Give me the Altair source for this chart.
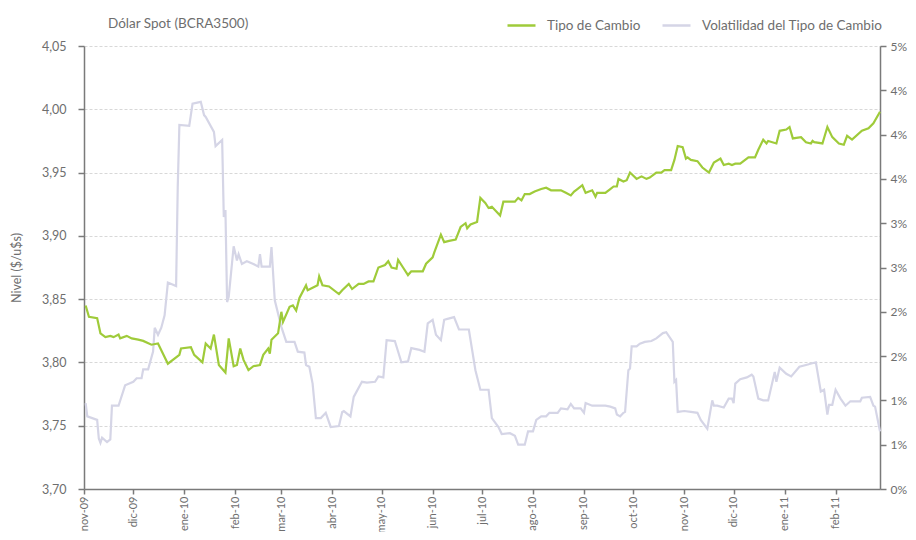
import altair as alt
import pandas as pd

# ---------------- data ----------------
tc_dates = ["2009-11-02","2009-11-04","2009-11-09","2009-11-11","2009-11-14","2009-11-17","2009-11-19","2009-11-22","2009-11-23","2009-11-27","2009-11-30",
"2009-12-04","2009-12-07","2009-12-12","2009-12-16","2009-12-22","2009-12-29","2009-12-30",
"2010-01-05","2010-01-07","2010-01-12","2010-01-14","2010-01-17","2010-01-19","2010-01-22","2010-01-26","2010-01-28","2010-01-31",
"2010-02-02","2010-02-04","2010-02-06","2010-02-09","2010-02-12","2010-02-16","2010-02-18","2010-02-21","2010-02-22","2010-02-23","2010-02-27",
"2010-03-01","2010-03-02","2010-03-06","2010-03-08","2010-03-10","2010-03-12","2010-03-16","2010-03-17","2010-03-20","2010-03-23","2010-03-24","2010-03-26","2010-03-30",
"2010-04-05","2010-04-07","2010-04-11","2010-04-13","2010-04-17","2010-04-20","2010-04-23","2010-04-26","2010-04-29",
"2010-05-03","2010-05-05","2010-05-07","2010-05-10","2010-05-11","2010-05-14","2010-05-17","2010-05-19","2010-05-26","2010-05-28",
"2010-06-01","2010-06-02","2010-06-06","2010-06-08","2010-06-11","2010-06-15","2010-06-18","2010-06-21","2010-06-22","2010-06-24","2010-06-28","2010-06-30",
"2010-07-03","2010-07-05","2010-07-07","2010-07-12","2010-07-14","2010-07-21","2010-07-23","2010-07-25","2010-07-27","2010-07-30",
"2010-08-02","2010-08-06","2010-08-09","2010-08-12","2010-08-18","2010-08-21","2010-08-24","2010-08-26","2010-08-28","2010-08-31",
"2010-09-02","2010-09-06","2010-09-08","2010-09-09","2010-09-14","2010-09-17","2010-09-19","2010-09-21","2010-09-22","2010-09-25","2010-09-27","2010-09-29",
"2010-10-03","2010-10-06","2010-10-09","2010-10-11","2010-10-15","2010-10-18","2010-10-20","2010-10-24","2010-10-26","2010-10-28","2010-10-31",
"2010-11-02","2010-11-03","2010-11-05","2010-11-09","2010-11-12","2010-11-16","2010-11-19","2010-11-23","2010-11-25","2010-11-28","2010-11-30",
"2010-12-02","2010-12-05","2010-12-10","2010-12-14","2010-12-16","2010-12-19","2010-12-21","2010-12-22","2010-12-27","2010-12-29",
"2011-01-02","2011-01-04","2011-01-06","2011-01-11","2011-01-14","2011-01-17","2011-01-18","2011-01-19","2011-01-24","2011-01-27","2011-01-30",
"2011-02-03","2011-02-06","2011-02-08","2011-02-11","2011-02-17","2011-02-21","2011-02-24","2011-02-28"]
tc_values = [3.845,3.836,3.835,3.823,3.820,3.821,3.820,3.822,3.819,3.821,3.819,
3.818,3.817,3.814,3.815,3.799,3.806,3.811,
3.812,3.806,3.800,3.815,3.811,3.822,3.798,3.792,3.819,3.797,
3.798,3.811,3.802,3.794,3.797,3.798,3.806,3.811,3.807,3.818,3.823,
3.840,3.832,3.844,3.845,3.841,3.851,3.861,3.857,3.859,3.861,3.868,3.861,3.860,
3.854,3.857,3.862,3.858,3.862,3.862,3.864,3.864,3.875,
3.877,3.880,3.875,3.874,3.881,3.875,3.869,3.872,3.872,3.878,
3.883,3.887,3.901,3.895,3.896,3.897,3.907,3.910,3.906,3.909,3.911,3.930,
3.926,3.922,3.923,3.916,3.927,3.927,3.930,3.928,3.933,3.933,
3.935,3.937,3.938,3.936,3.936,3.934,3.932,3.935,3.937,3.940,
3.934,3.936,3.931,3.934,3.934,3.937,3.939,3.939,3.945,3.943,3.944,3.950,
3.945,3.947,3.945,3.946,3.950,3.950,3.952,3.952,3.960,3.971,3.970,
3.961,3.962,3.960,3.959,3.954,3.950,3.958,3.961,3.956,3.957,3.956,
3.957,3.957,3.962,3.962,3.968,3.976,3.973,3.975,3.973,3.983,
3.984,3.986,3.977,3.978,3.974,3.973,3.975,3.974,3.973,3.986,3.978,
3.973,3.972,3.979,3.976,3.983,3.985,3.989,3.998]

vol_dates = ["2009-11-02","2009-11-03","2009-11-09","2009-11-10","2009-11-11","2009-11-12","2009-11-15","2009-11-17","2009-11-18","2009-11-22","2009-11-26",
"2009-12-01","2009-12-03","2009-12-06","2009-12-07","2009-12-10","2009-12-13","2009-12-14","2009-12-16","2009-12-18","2009-12-20","2009-12-22","2009-12-27","2009-12-28","2009-12-29",
"2010-01-04","2010-01-06","2010-01-11","2010-01-13","2010-01-14","2010-01-19","2010-01-20","2010-01-24","2010-01-25","2010-01-26","2010-01-27","2010-01-28","2010-01-31",
"2010-02-02","2010-02-03","2010-02-05","2010-02-08","2010-02-12","2010-02-15","2010-02-16","2010-02-17","2010-02-22","2010-02-23","2010-02-25",
"2010-03-01","2010-03-04","2010-03-09","2010-03-11","2010-03-15","2010-03-16","2010-03-18","2010-03-20","2010-03-22","2010-03-25","2010-03-28","2010-03-31",
"2010-04-05","2010-04-07","2010-04-08","2010-04-12","2010-04-14","2010-04-19","2010-04-22","2010-04-27","2010-04-29",
"2010-05-02","2010-05-04","2010-05-09","2010-05-13","2010-05-17","2010-05-19","2010-05-24","2010-05-27","2010-05-29",
"2010-06-01","2010-06-03","2010-06-06","2010-06-08","2010-06-10","2010-06-14","2010-06-17","2010-06-23","2010-06-27","2010-06-30",
"2010-07-05","2010-07-07","2010-07-11","2010-07-13","2010-07-18","2010-07-21","2010-07-23","2010-07-27","2010-07-29",
"2010-08-01","2010-08-03","2010-08-06","2010-08-09","2010-08-11","2010-08-16","2010-08-18","2010-08-22","2010-08-24","2010-08-26","2010-08-30",
"2010-09-01","2010-09-02","2010-09-06","2010-09-14","2010-09-17","2010-09-20","2010-09-21","2010-09-23","2010-09-25","2010-09-26","2010-09-28","2010-09-29","2010-09-30",
"2010-10-03","2010-10-05","2010-10-08","2010-10-12","2010-10-15","2010-10-19","2010-10-21","2010-10-25","2010-10-26","2010-10-27","2010-10-28",
"2010-11-01","2010-11-05","2010-11-09","2010-11-11","2010-11-15","2010-11-18","2010-11-19","2010-11-21","2010-11-25","2010-11-28","2010-11-30",
"2010-12-01","2010-12-02","2010-12-05","2010-12-09","2010-12-12","2010-12-13","2010-12-16","2010-12-19","2010-12-22","2010-12-26","2010-12-27","2010-12-29",
"2011-01-02","2011-01-05","2011-01-10","2011-01-14","2011-01-20","2011-01-23","2011-01-25","2011-01-27","2011-01-28","2011-01-30",
"2011-02-01","2011-02-04","2011-02-07","2011-02-10","2011-02-16","2011-02-17","2011-02-22","2011-02-24","2011-02-25","2011-02-28"]
vol_values = [0.97,0.82,0.78,0.57,0.52,0.58,0.53,0.56,0.94,0.94,1.17,
1.21,1.25,1.25,1.35,1.35,1.55,1.82,1.74,1.82,1.96,2.33,2.29,3.41,4.11,
4.10,4.35,4.37,4.22,4.20,4.03,3.87,3.94,3.07,3.15,2.11,2.17,2.74,
2.58,2.65,2.54,2.57,2.54,2.51,2.65,2.51,2.51,2.73,2.13,
1.83,1.66,1.66,1.55,1.54,1.40,1.38,1.19,0.80,0.80,0.86,0.70,
0.71,0.87,0.88,0.82,1.04,1.21,1.20,1.21,1.27,
1.26,1.68,1.67,1.43,1.44,1.59,1.57,1.55,1.87,
1.91,1.74,1.68,1.91,1.92,1.94,1.80,1.80,1.34,1.12,
1.12,0.80,0.70,0.62,0.63,0.60,0.50,0.50,0.65,
0.65,0.78,0.82,0.82,0.86,0.86,0.91,0.90,0.96,0.91,0.91,
0.86,0.97,0.94,0.94,0.93,0.91,0.84,0.82,0.86,0.87,1.34,1.36,1.61,
1.61,1.64,1.66,1.67,1.70,1.76,1.77,1.66,1.21,1.23,0.87,
0.88,0.87,0.86,0.78,0.68,1.00,0.94,0.94,0.92,1.02,1.02,
0.97,1.19,1.24,1.26,1.29,1.27,1.02,1.00,1.00,1.32,1.21,1.37,
1.30,1.27,1.38,1.40,1.43,1.10,1.12,0.84,0.95,0.95,
1.12,1.02,0.94,0.99,0.99,1.03,1.04,0.94,0.93,0.65]

series_names = ["Tipo de Cambio", "Volatilidad del Tipo de Cambio"]
series_colors = ["#9fcb3a", "#d5d5e6"]
month_names = ["ene", "feb", "mar", "abr", "may", "jun", "jul", "ago", "sep", "oct", "nov", "dic"]
left_ticks = [3.70, 3.75, 3.80, 3.85, 3.90, 3.95, 4.00, 4.05]
right_ticks = [0, 0.5, 1, 1.5, 2, 2.5, 3, 3.5, 4, 4.5, 5]
right_labels = ["0%", "1%", "1%", "2%", "2%", "3%", "3%", "4%", "4%", "4%", "5%"]
month_ticks = [(2009, 11), (2009, 12)] + [(2010, m) for m in range(1, 13)] + [(2011, 1), (2011, 2)]

FONT = "Lato"
TXT = "#6e6e6e"

tc_df = pd.DataFrame({"fecha": tc_dates, "valor": tc_values, "serie": series_names[0]})
vol_df = pd.DataFrame({"fecha": vol_dates, "valor": vol_values, "serie": series_names[1]})

month_js = "[" + ",".join("'%s'" % m for m in month_names) + "]"
right_js = "[" + ",".join("'%s'" % s for s in right_labels) + "]"

x_enc = alt.X(
    "fecha:T",
    scale=alt.Scale(type="utc", domain=[alt.DateTime(year=2009, month=11, date=1, utc=True),
                                        alt.DateTime(year=2011, month=2, date=28, utc=True)]),
    axis=alt.Axis(
        values=[alt.DateTime(year=y, month=m, date=1, utc=True) for y, m in month_ticks],
        labelExpr=month_js + "[utcmonth(datum.value)] + '-' + utcFormat(datum.value, '%y')",
        labelAngle=270, labelAlign="right", labelBaseline="middle",
        labelPadding=2, tickSize=5, grid=False, title=None, labelFontSize=11,
    ),
)

color_enc = alt.Color(
    "serie:N",
    scale=alt.Scale(domain=series_names, range=series_colors),
    legend=alt.Legend(
        orient="none", legendX=422, legendY=-36, direction="horizontal", title=None,
        symbolType="stroke", symbolSize=784, symbolStrokeWidth=2.5,
        labelFont=FONT, labelFontSize=13.5, labelColor=TXT, labelOffset=10,
        labelLimit=400, columnPadding=16,
    ),
)

vol_line = alt.Chart(vol_df).mark_line(strokeWidth=2.2).encode(
    x=x_enc,
    y=alt.Y(
        "valor:Q",
        scale=alt.Scale(domain=[0, 5], nice=False, zero=True),
        axis=alt.Axis(orient="right", values=right_ticks,
                      labelExpr=right_js + "[round(datum.value*2)]",
                      grid=False, title=None, tickSize=6, labelPadding=4, labelFontSize=12),
    ),
    color=color_enc,
)

tc_line = alt.Chart(tc_df).mark_line(strokeWidth=2.2).encode(
    x=x_enc,
    y=alt.Y(
        "valor:Q",
        scale=alt.Scale(domain=[3.70, 4.05], nice=False, zero=False),
        axis=alt.Axis(orient="left", values=left_ticks,
                      labelExpr="replace(format(datum.value, '.2f'), '.', ',')",
                      grid=True, gridDash=[3, 2], gridColor="#d8d8d8", gridWidth=1,
                      title="Nivel ($/u$s)", titleX=-68, titleBaseline="middle",
                      titleFont=FONT, titleFontSize=12.5, titleFontWeight="normal", titleColor=TXT,
                      tickSize=6, labelPadding=12),
    ),
    color=color_enc,
)

chart = alt.layer(vol_line, tc_line).resolve_scale(y="independent").properties(
    width=796, height=443,
    autosize=alt.AutoSizeParams(type="none"),
    padding={"left": 76, "top": 38, "right": 28, "bottom": 43},
    title=alt.TitleParams("Dólar Spot (BCRA3500)", anchor="start", dx=98, offset=20, dy=40,
                          font=FONT, fontSize=13.5, fontWeight="normal", color=TXT),
).configure_view(stroke=None).configure_axis(
    labelFont=FONT, labelFontSize=12.5, labelColor=TXT,
    domainColor="#7a7a7a", domainWidth=1.5, tickColor="#7a7a7a", tickWidth=1.5,
)

chart.save("out.html", embed_options={"renderer": "svg", "actions": False})
